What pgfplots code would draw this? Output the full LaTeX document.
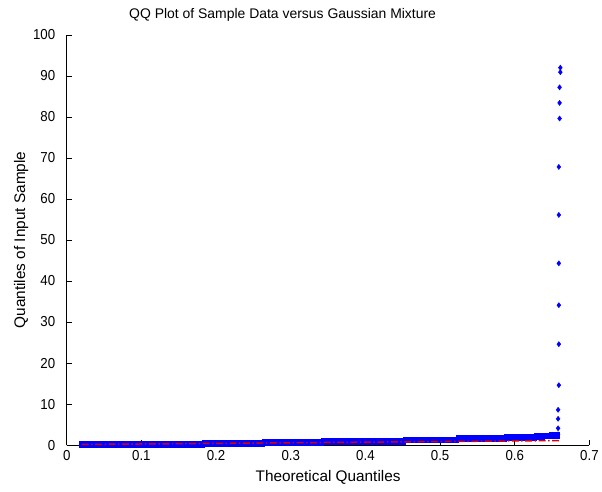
\documentclass[border=0pt]{standalone}
\usepackage{pgfplots}
\pgfplotsset{compat=1.18}
\usepackage{fontspec}
\setmainfont{Liberation Sans}[FakeStretch=0.92]
\newfontfamily\lab{Liberation Sans}
\begin{document}
\begin{tikzpicture}
\begin{axis}[
  set layers,
  scale only axis,
  width=525bp, height=412bp,
  xmin=0, xmax=0.7, ymin=0, ymax=100,
  axis x line*=bottom, axis y line*=left,
  axis line style={-, black, line width=0.6bp},
  xtick align=inside, ytick align=inside,
  major tick length=5bp,
  tick style={black, line width=0.6bp},
  xtick={0,0.1,...,0.7},
  ytick={0,10,...,100},
  xticklabels={0,0.1,0.2,0.3,0.4,0.5,0.6,0.7},
  /pgf/number format/assume math mode=true,
  tick label style={font=\fontsize{14.5bp}{16bp}\selectfont},
  label style={font=\lab\fontsize{15.4bp}{17bp}\selectfont},
  xticklabel style={yshift=-2bp},
  yticklabel style={xshift=-8bp},
  xlabel={Theoretical Quantiles},
  ylabel={Quantiles of Input Sample},
  xlabel style={yshift=-3bp},
  ylabel style={yshift=-2bp},
  title={QQ Plot of Sample Data versus Gaussian Mixture},
  title style={font=\lab\fontsize{14bp}{16bp}\selectfont, at={(0.413,1)}, anchor=south, yshift=4bp},
  clip=false,
]
% dense band of sample quantiles
\addplot[only marks, blue, mark=square*, mark size=2.9bp] coordinates {
(0.020,0.2) (0.025,0.2) (0.030,0.2) (0.035,0.2) (0.040,0.2) (0.045,0.2) (0.050,0.2) (0.055,0.2) (0.060,0.2) (0.065,0.2) (0.070,0.2) (0.075,0.2) (0.080,0.2) (0.085,0.2) (0.090,0.2) (0.095,0.2) (0.100,0.2) (0.105,0.2) (0.110,0.2) (0.115,0.2) (0.120,0.2) (0.125,0.2) (0.130,0.2) (0.135,0.2) (0.140,0.2) (0.145,0.2) (0.150,0.2) (0.155,0.2) (0.160,0.2) (0.165,0.2) (0.170,0.2) (0.175,0.2) (0.180,0.2)
(0.185,0.45) (0.190,0.45) (0.195,0.45) (0.200,0.45) (0.205,0.45) (0.210,0.45) (0.215,0.45) (0.220,0.45) (0.225,0.45) (0.230,0.45) (0.235,0.45) (0.240,0.45) (0.245,0.45) (0.250,0.45) (0.255,0.45) (0.260,0.45)
(0.265,0.7) (0.270,0.7) (0.275,0.7) (0.280,0.7) (0.285,0.7) (0.290,0.7) (0.295,0.7) (0.300,0.7) (0.305,0.7) (0.310,0.7) (0.315,0.7) (0.320,0.7) (0.325,0.7) (0.330,0.7) (0.335,0.7) (0.340,0.7)
(0.345,1.0) (0.350,1.0) (0.355,1.0) (0.360,1.0) (0.365,1.0) (0.370,1.0) (0.375,1.0) (0.380,1.0) (0.385,1.0) (0.390,1.0) (0.395,1.0) (0.400,1.0) (0.405,1.0) (0.410,1.0) (0.415,1.0) (0.420,1.0) (0.425,1.0) (0.430,1.0) (0.435,1.0) (0.440,1.0) (0.445,1.0) (0.450,1.0)
(0.455,1.3) (0.460,1.3) (0.465,1.3) (0.470,1.3) (0.475,1.3) (0.480,1.3) (0.485,1.3) (0.490,1.3) (0.495,1.3) (0.500,1.3) (0.505,1.3) (0.510,1.3) (0.515,1.3) (0.520,1.3)
(0.525,1.6) (0.530,1.6) (0.535,1.6) (0.540,1.6) (0.545,1.6) (0.550,1.6) (0.555,1.6) (0.560,1.6) (0.565,1.6) (0.570,1.6) (0.575,1.6) (0.580,1.6) (0.585,1.6)
(0.590,1.9) (0.595,1.9) (0.600,1.9) (0.605,1.9) (0.610,1.9) (0.615,1.9) (0.620,1.9) (0.625,1.9)
(0.630,2.2) (0.635,2.2) (0.640,2.3) (0.645,2.3) (0.650,2.4) (0.655,2.5)
};
% upper tail
\addplot[only marks, blue, mark=diamond*, mark size=2.6bp] coordinates {
(0.658,2.6) (0.658,4.1) (0.658,6.4) (0.658,8.6) (0.659,14.6) (0.659,24.6) (0.659,34.1) (0.659,44.3) (0.659,56.1) (0.659,67.8) (0.660,79.6) (0.660,83.4) (0.660,87.2) (0.661,90.9) (0.661,92.0)
};
% reference line
\addplot[red!85!black, line width=1.5bp, dash pattern=on 7bp off 2.5bp on 1.5bp off 2.5bp, on layer=axis foreground] coordinates {(0.02,0.15) (0.66,1.1)};
\end{axis}
\path (current axis.south west) ++(-67bp,-47bp) coordinate (bbl);
\path (current axis.north east) ++(10bp,35bp) coordinate (btr);
\path (bbl) rectangle (btr);
\end{tikzpicture}
\end{document}
